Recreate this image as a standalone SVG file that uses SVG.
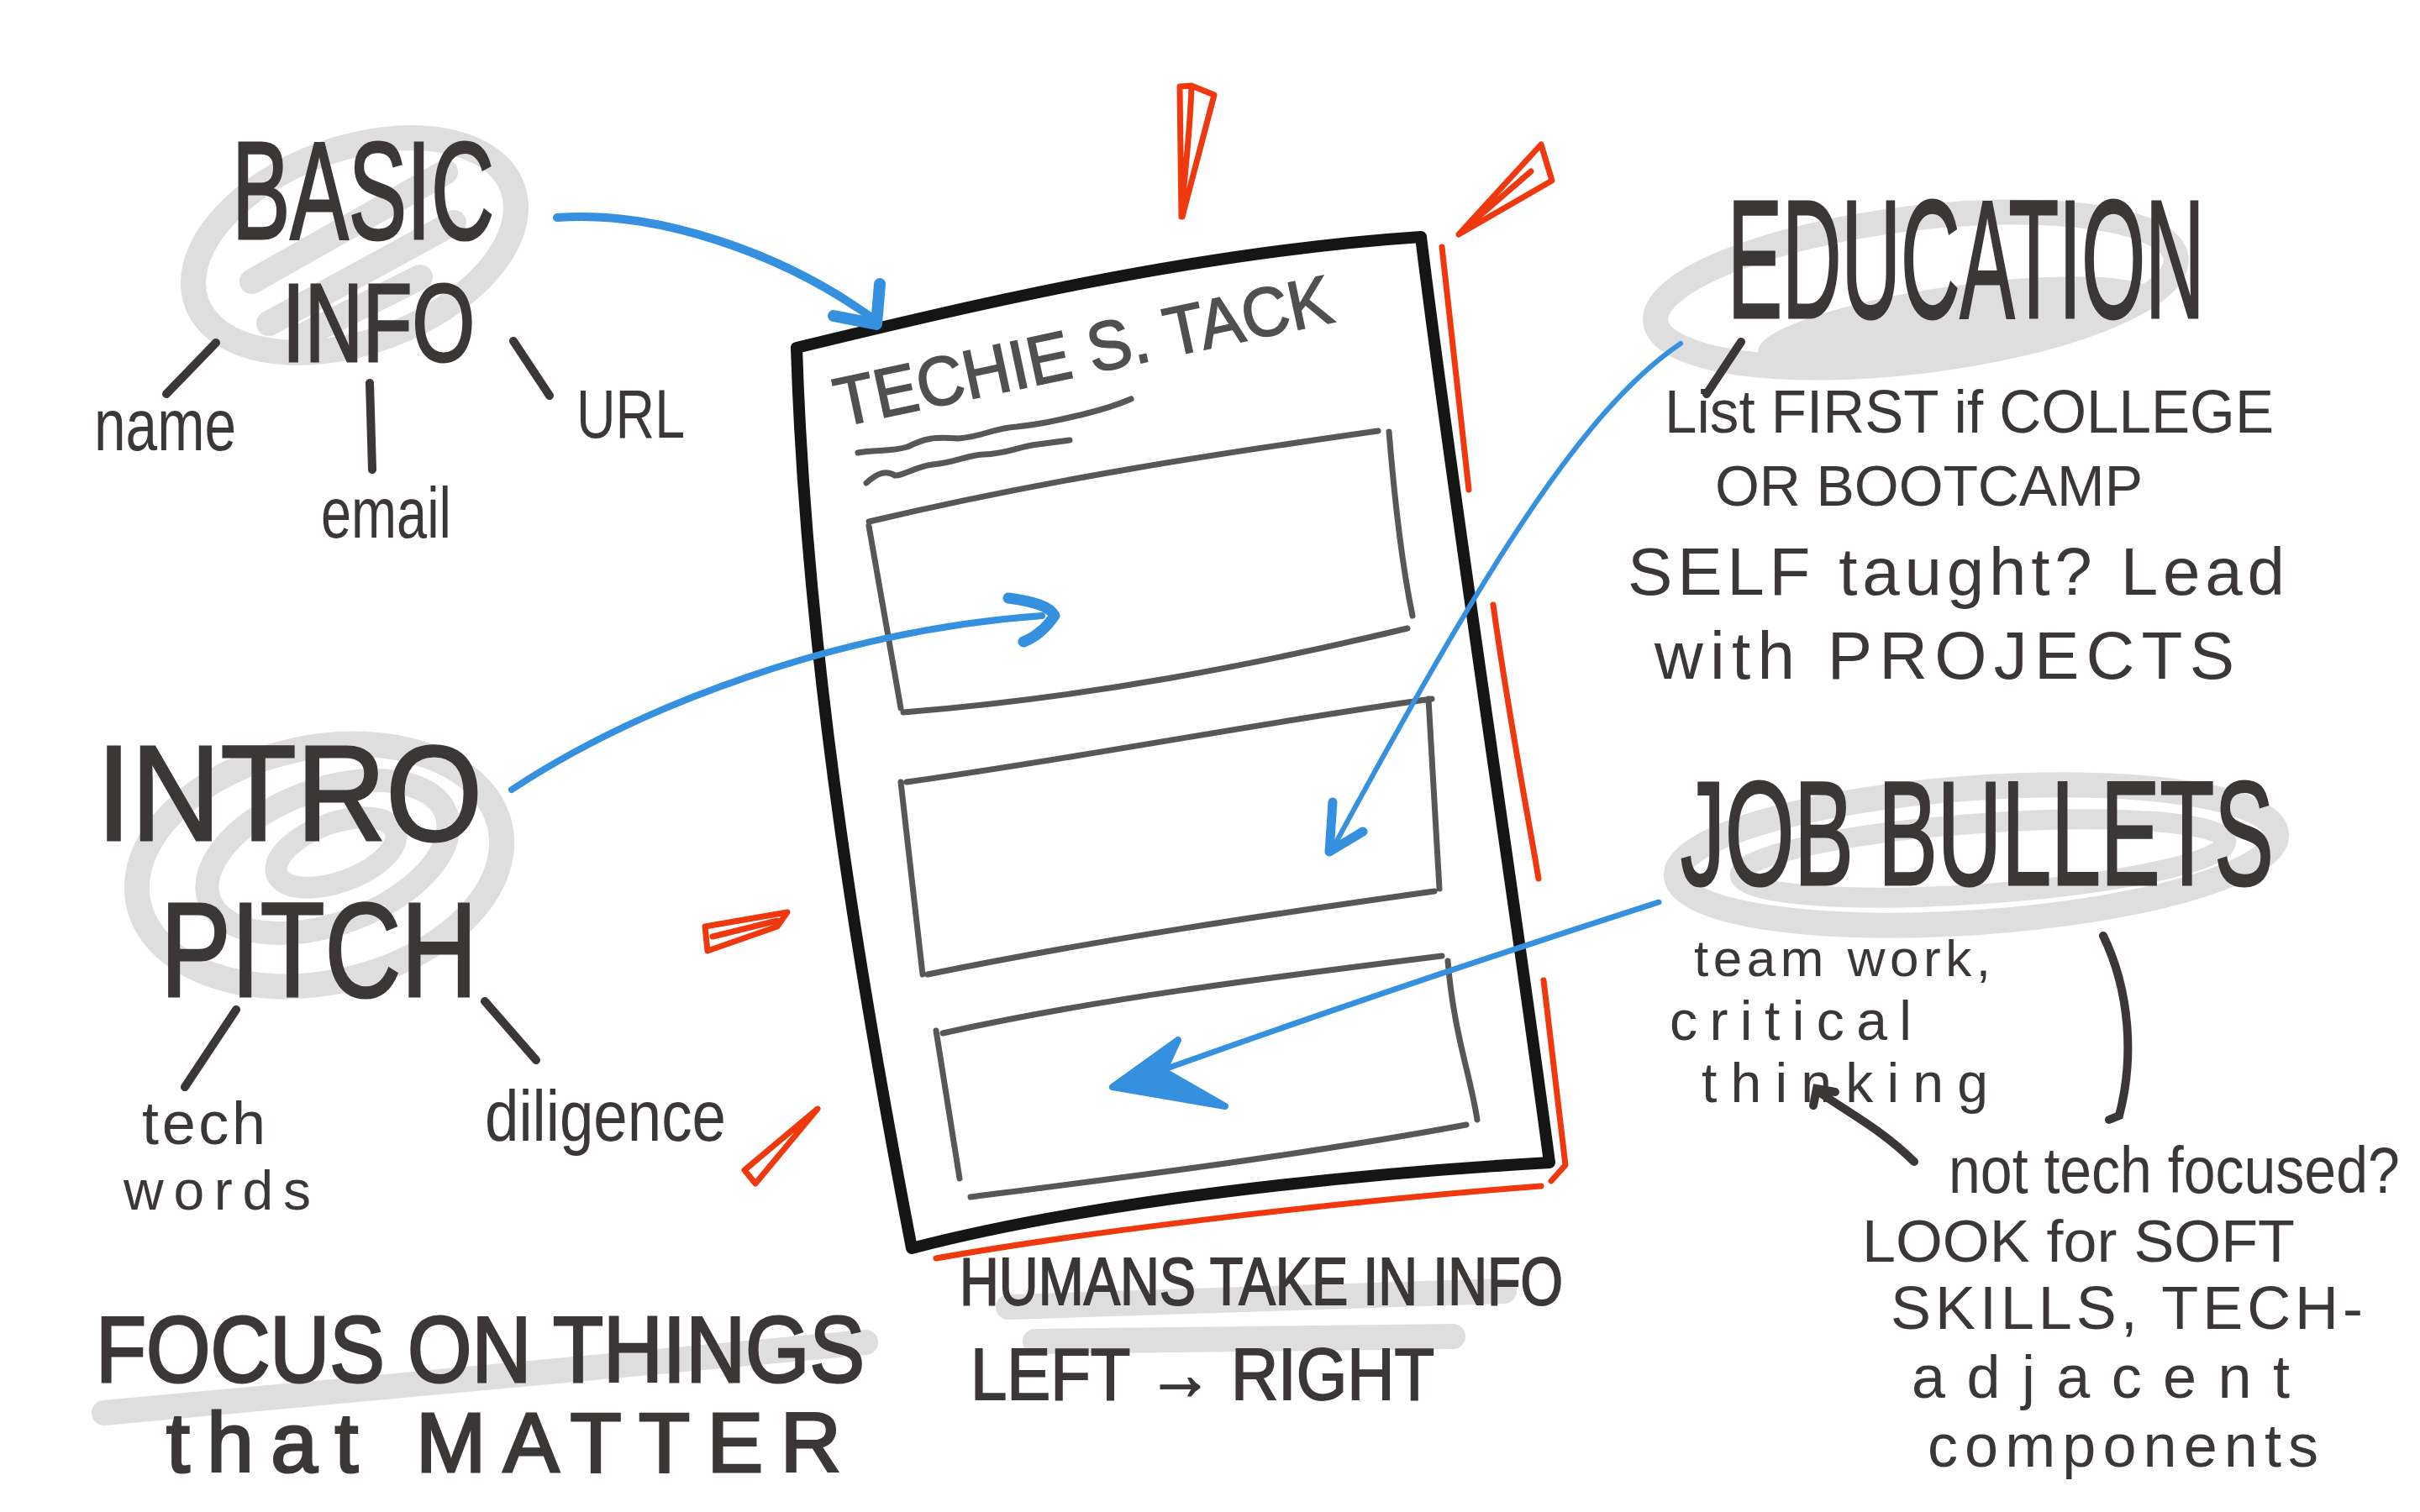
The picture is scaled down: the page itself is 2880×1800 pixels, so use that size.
<svg xmlns="http://www.w3.org/2000/svg" width="2880" height="1800" viewBox="0 0 2880 1800">
<style>
.t{font-family:"Liberation Sans",Arial,sans-serif;fill:#3a3736;}
.h{stroke:#3a3736;stroke-width:3;}
.sw{fill:none;stroke:#dedede;stroke-linecap:round;}
.br{fill:none;stroke:#3a3736;stroke-width:10;stroke-linecap:round;}
.bl{fill:none;stroke:#3590e0;stroke-linecap:round;stroke-linejoin:round;}
.rd{fill:none;stroke:#f0380f;stroke-width:7;stroke-linecap:round;stroke-linejoin:round;}
.ib{fill:none;stroke:#575757;stroke-width:7;stroke-linecap:round;}
</style>
<rect width="2880" height="1800" fill="#fff"/>

<g id="basic-info">
<ellipse class="sw" cx="422" cy="292" rx="200" ry="115" stroke-width="30" transform="rotate(-20 422 292)"/>
<path class="sw" stroke-width="30" d="M300,335 L530,205 M320,385 L540,265 M360,400 L500,330"/>
<text class="t h" x="276" y="284" font-size="165" textLength="312" lengthAdjust="spacingAndGlyphs">BASIC</text>
<text class="t h" x="336" y="430" font-size="132" textLength="229" lengthAdjust="spacingAndGlyphs">INFO</text>
<text class="t" x="112" y="536" font-size="88" textLength="169" lengthAdjust="spacingAndGlyphs">name</text>
<text class="t" x="382" y="640" font-size="85" textLength="155" lengthAdjust="spacingAndGlyphs">email</text>
<text class="t" x="686" y="521" font-size="82" textLength="129" lengthAdjust="spacingAndGlyphs">URL</text>
</g>

<g id="intro-pitch">
<ellipse class="sw" cx="380" cy="1030" rx="220" ry="140" stroke-width="30" transform="rotate(-12 380 1030)"/>
<ellipse class="sw" cx="390" cy="1020" rx="150" ry="80" stroke-width="28" transform="rotate(-20 390 1020)"/>
<ellipse class="sw" cx="400" cy="1015" rx="75" ry="35" stroke-width="26" transform="rotate(-20 400 1015)"/>
<text class="t h" x="115" y="1000" font-size="162" textLength="459" lengthAdjust="spacingAndGlyphs">INTRO</text>
<text class="t h" x="191" y="1186" font-size="160" textLength="377" lengthAdjust="spacingAndGlyphs">PITCH</text>
<text class="t" x="169" y="1362" font-size="72" textLength="147" lengthAdjust="spacing">tech</text>
<text class="t" x="147" y="1440" font-size="66" textLength="223" lengthAdjust="spacing">words</text>
<text class="t" x="577" y="1358" font-size="85" textLength="287" lengthAdjust="spacingAndGlyphs">diligence</text>
</g>

<g id="focus-note">
<path class="sw" stroke-width="30" d="M124,1682 L1030,1598"/>
<text class="t h" x="114" y="1645" font-size="112" textLength="915" lengthAdjust="spacingAndGlyphs">FOCUS ON THINGS</text>
<text class="t h" x="198" y="1752" font-size="100" textLength="803" lengthAdjust="spacing">that MATTER</text>
</g>

<g id="resume">
<path d="M948,414 C1150,365 1420,300 1691,282 C1730,600 1800,1050 1844,1384 C1600,1398 1300,1430 1085,1486 C1030,1200 960,800 948,414 Z" fill="none" stroke="#151515" stroke-width="14" stroke-linejoin="round"/>
<text class="t" x="0" y="0" font-size="82" textLength="603" lengthAdjust="spacingAndGlyphs" transform="translate(1000,508) rotate(-12)" style="fill:#505050;stroke:#505050;stroke-width:2">TECHIE S. TACK</text>
<path class="ib" d="M1021,539 C1040,535 1060,538 1080,532 C1100,522 1110,520 1140,522 C1170,520 1180,510 1210,508 C1240,505 1260,500 1290,493 C1310,488 1330,482 1346,475"/>
<path class="ib" d="M1031,575 C1045,562 1055,560 1065,566 C1075,567 1090,555 1110,553 C1140,550 1150,542 1170,541 C1200,540 1210,532 1235,529 C1250,527 1265,525 1273,524"/>
<path class="ib" d="M1034,621 C1250,570 1450,540 1640,513 M1653,514 C1660,600 1670,680 1681,733 M1034,626 L1072,843 M1075,848 C1300,830 1500,790 1675,748"/>
<path class="ib" d="M1079,931 C1300,900 1500,860 1704,832 M1700,832 L1713,1058 M1072,931 L1098,1160 M1104,1160 C1300,1120 1500,1090 1707,1061"/>
<path class="ib" d="M1122,1230 C1300,1190 1500,1165 1716,1138 M1723,1144 C1730,1230 1750,1280 1758,1333 M1114,1227 L1142,1403 M1155,1425 C1350,1400 1550,1375 1745,1339"/>
</g>

<g id="accents">
<path class="rd" d="M1406,258 L1404,103 L1418,102 L1445,113 L1407,258 M1418,104 C1416,160 1410,210 1406,250"/>
<path class="rd" d="M1736,279 L1834,172 L1847,215 Z M1748,268 L1822,204"/>
<path class="rd" stroke-width="9" d="M1716,294 L1748,583"/>
<path class="rd" stroke-width="9" d="M1777,720 C1795,850 1820,980 1831,1046"/>
<path class="rd" stroke-width="9" d="M1837,1167 L1863,1387 L1846,1406"/>
<path class="rd" stroke-width="9" d="M1114,1498 C1300,1465 1600,1430 1834,1412"/>
<path class="rd" d="M839,1103 L937,1086 L925,1103 L842,1132 Z M848,1115 L925,1096"/>
<path class="rd" d="M886,1393 L899,1409 L973,1320 Z"/>
</g>

<g id="humans-note">
<path class="sw" stroke-width="30" d="M1200,1556 L1790,1537 M1232,1597 L1729,1591"/>
<text class="t" x="1142" y="1553" font-size="80" textLength="718" lengthAdjust="spacingAndGlyphs" style="stroke:#3a3736;stroke-width:2">HUMANS TAKE IN INFO</text>
<text class="t" x="1155" y="1666" font-size="88" textLength="552" lengthAdjust="spacingAndGlyphs" style="stroke:#3a3736;stroke-width:2">LEFT → RIGHT</text>
</g>

<g id="education">
<ellipse class="sw" cx="2280" cy="345" rx="312" ry="85" stroke-width="30" transform="rotate(-7 2280 345)"/>
<ellipse cx="2330" cy="385" rx="240" ry="45" fill="#dedede" transform="rotate(-8 2330 385)"/>
<text class="t h" x="0" y="0" font-size="200" transform="translate(2056,378) scale(0.488,1)">EDUCATION</text>
<text class="t" x="1981" y="515" font-size="72" textLength="725" lengthAdjust="spacingAndGlyphs">List FIRST if COLLEGE</text>
<text class="t" x="2041" y="602" font-size="68" textLength="509" lengthAdjust="spacing">OR BOOTCAMP</text>
<text class="t" x="1937" y="708" font-size="80" textLength="782" lengthAdjust="spacing">SELF taught? Lead</text>
<text class="t" x="1969" y="808" font-size="80" textLength="690" lengthAdjust="spacing">with PROJECTS</text>
</g>

<g id="job-bullets">
<ellipse class="sw" cx="2352" cy="1018" rx="358" ry="80" stroke-width="30" transform="rotate(-4 2352 1018)"/>
<ellipse class="sw" cx="2360" cy="1022" rx="290" ry="42" stroke-width="24" transform="rotate(-4 2360 1022)"/>
<text class="t h" x="0" y="0" font-size="177" transform="translate(2000,1053) scale(0.598,1)">JOB BULLETS</text>
<text class="t" x="2016" y="1162" font-size="62" textLength="353" lengthAdjust="spacing">team work,</text>
<text class="t" x="1987" y="1238" font-size="66" textLength="288" lengthAdjust="spacing">critical</text>
<text class="t" x="2025" y="1312" font-size="66" textLength="341" lengthAdjust="spacing">thinking</text>
<text class="t" x="0" y="0" font-size="78" transform="translate(2319,1420) scale(0.872,1)">not tech focused?</text>
<text class="t" x="2216" y="1502" font-size="70" textLength="515" lengthAdjust="spacingAndGlyphs">LOOK for SOFT</text>
<text class="t" x="2250" y="1582" font-size="72" textLength="562" lengthAdjust="spacing">SKILLS, TECH-</text>
<text class="t" x="2275" y="1664" font-size="72" textLength="450" lengthAdjust="spacing">adjacent</text>
<text class="t" x="2294" y="1746" font-size="72" textLength="465" lengthAdjust="spacing">components</text>
</g>

<g id="connectors">
<path class="br" d="M257,408 L198,469"/>
<path class="br" d="M440,456 L443,559"/>
<path class="br" d="M611,406 L654,471"/>
<path class="br" d="M281,1202 L220,1294"/>
<path class="br" d="M577,1192 L638,1262"/>
<path class="br" stroke-width="6" d="M2072,407 L2031,469"/>
<path class="br" stroke-width="6" d="M2503,1114 C2535,1180 2540,1260 2522,1328 L2510,1333"/>
<path class="br" stroke-width="5" d="M2278,1383 C2240,1345 2200,1325 2162,1298 M2158,1316 L2162,1296 L2184,1300"/>
<path class="bl" stroke-width="10" d="M663,259 C780,250 930,300 1040,380"/>
<path class="bl" stroke-width="14" d="M1047,338 L1043,386 L992,376"/>
<path class="bl" stroke-width="8" d="M609,940 C760,840 1000,750 1240,733"/>
<path class="bl" stroke-width="13" d="M1200,712 C1230,716 1250,722 1255,733 C1245,748 1230,760 1218,764"/>
<path class="bl" stroke-width="6" d="M2000,409 C1880,490 1760,690 1586,1010"/>
<path class="bl" stroke-width="11" d="M1586,955 L1582,1014 L1622,990"/>
<path class="bl" stroke-width="7" d="M1974,1074 C1800,1130 1560,1210 1330,1293"/>
<path d="M1324,1294 L1402,1238 L1385,1275 L1458,1317 Z" fill="#3590e0" stroke="#3590e0" stroke-width="8" stroke-linejoin="round"/>
</g>
</svg>
